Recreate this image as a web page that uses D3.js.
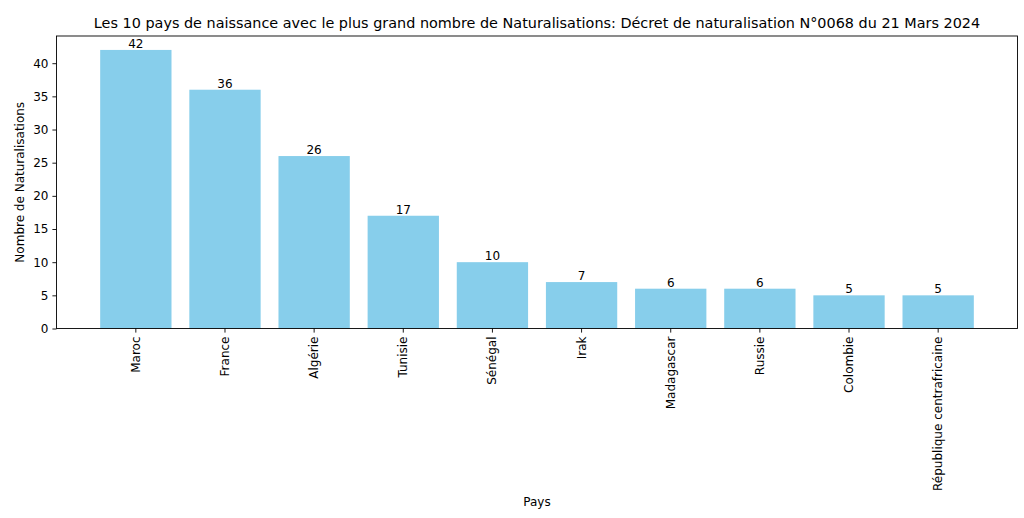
<!DOCTYPE html>
<html><head><meta charset="utf-8">
<script src="https://cdn.jsdelivr.net/npm/d3@7"></script>
<style>body{margin:0;background:#fff}svg{display:block}text{font-family:"DejaVu Sans",sans-serif;fill:#000}</style>
</head><body>
<svg id="c" width="1024" height="518"></svg>
<script>
const categories = ["Maroc","France","Algérie","Tunisie","Sénégal","Irak","Madagascar","Russie","Colombie","République centrafricaine"];
const values = [42,36,26,17,10,7,6,6,5,5];
const yTicks = [0,5,10,15,20,25,30,35,40];
const title = "Les 10 pays de naissance avec le plus grand nombre de Naturalisations: Décret de naturalisation N°0068 du 21 Mars 2024";
const xLabel = "Pays";
const yLabel = "Nombre de Naturalisations";

const svg = d3.select("#c");
const L = 56.5, R = 1017.5, T = 36, B = 328.5;
const fs = 12;
const n = categories.length;
const x = d3.scaleLinear().domain([-0.89, n - 1 + 0.89]).range([L, R]);
const y = d3.scaleLinear().domain([0, d3.max(values) * 1.05]).range([B, T]);

svg.append("g").selectAll("rect").data(values).join("rect")
  .attr("x", (d, i) => x(i - 0.4)).attr("width", (d, i) => x(i + 0.4) - x(i - 0.4))
  .attr("y", d => y(d)).attr("height", d => B - y(d)).attr("fill", "#87CEEB");

svg.append("g").selectAll("text").data(values).join("text")
  .attr("x", (d, i) => x(i)).attr("y", d => y(d) - 2)
  .attr("text-anchor", "middle").attr("font-size", fs).text(d => d);

const yAxis = d3.axisLeft(y).tickValues(yTicks).tickSize(4.1).tickPadding(4);
const gy = svg.append("g").attr("transform", `translate(${L},0)`).call(yAxis);
gy.select(".domain").remove();
gy.selectAll("text").attr("font-size", fs).attr("font-family", "DejaVu Sans").attr("fill", "#000");
gy.selectAll("line").attr("stroke", "#000").attr("stroke-width", 0.9);

const gx = svg.append("g").attr("transform", `translate(0,${B})`);
categories.forEach((c, i) => {
  gx.append("line").attr("x1", x(i)).attr("x2", x(i)).attr("y1", 0).attr("y2", 4.1).attr("stroke", "#000").attr("stroke-width", 0.9);
  gx.append("text").attr("transform", `translate(${x(i) + 4},${8}) rotate(-90)`)
    .attr("text-anchor", "end").attr("font-size", fs).text(c);
});

svg.append("rect").attr("x", L).attr("y", T).attr("width", R - L).attr("height", B - T)
  .attr("fill", "none").attr("stroke", "#000").attr("stroke-width", 0.9);

svg.append("text").attr("x", (L + R) / 2).attr("y", 28).attr("text-anchor", "middle").attr("font-size", 14.4).text(title);
svg.append("text").attr("x", (L + R) / 2).attr("y", 506).attr("text-anchor", "middle").attr("font-size", fs).text(xLabel);
svg.append("text").attr("transform", `translate(24,${(T + B) / 2}) rotate(-90)`).attr("text-anchor", "middle").attr("font-size", fs).text(yLabel);
</script>
</body></html>
